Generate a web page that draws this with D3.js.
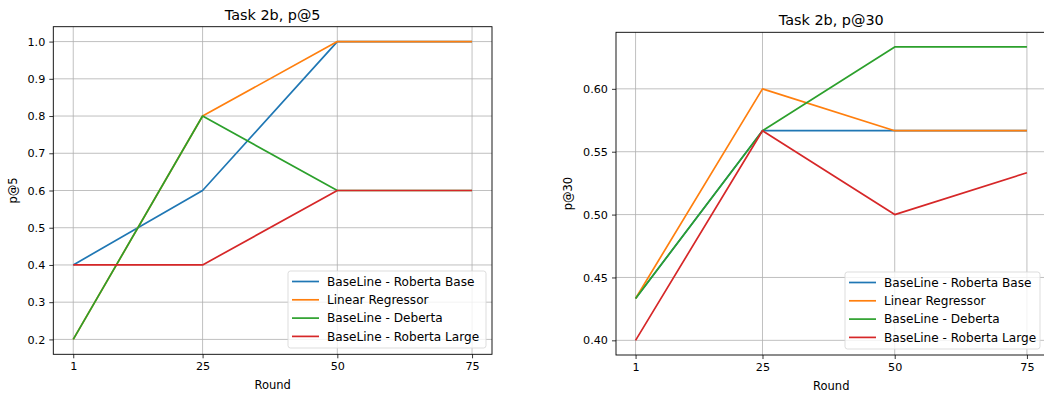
<!DOCTYPE html>
<html>
<head>
<meta charset="utf-8">
<script src="https://cdn.jsdelivr.net/npm/d3@7"></script>
<style>
  body { margin: 0; background: #fff; }
  svg { display: block; font-family: "DejaVu Sans", sans-serif; }
  .grid line { stroke: #b0b0b0; stroke-width: 0.8; }
  .axis path, .axis line { stroke: #000; stroke-width: 0.8; }
</style>
</head>
<body>
<div id="chart"></div>
<script>
(function () {

// values
var rounds = [1, 25, 50, 75];
var seriesNames = ['BaseLine - Roberta Base', 'Linear Regressor', 'BaseLine - Deberta', 'BaseLine - Roberta Large'];
var colors = ['#1f77b4', '#ff7f0e', '#2ca02c', '#d62728'];

var p5RobertaBase = [0.4, 0.6, 1.0, 1.0];
var p5Linear = [0.2, 0.8, 1.0, 1.0];
var p5Deberta = [0.2, 0.8, 0.6, 0.6];
var p5RobertaLarge = [0.4, 0.4, 0.6, 0.6];

var p30RobertaBase = [0.4333, 0.5667, 0.5667, 0.5667];
var p30Linear = [0.4333, 0.6, 0.5667, 0.5667];
var p30Deberta = [0.4333, 0.5667, 0.6333, 0.6333];
var p30RobertaLarge = [0.4, 0.5667, 0.5, 0.5333];

var p5Ticks = [0.2, 0.3, 0.4, 0.5, 0.6, 0.7, 0.8, 0.9, 1.0];
var p30Ticks = [0.40, 0.45, 0.50, 0.55, 0.60];

var width = 1044, height = 396;

var svg = d3.select('#chart')
            .append('svg')
            .attr('width', width)
            .attr('height', height);

function panel(opts) {
  var all = [].concat.apply([], opts.series);
  var lo = d3.min(all), hi = d3.max(all);
  var pad = (hi - lo) * 0.05;
  var xpad = (d3.max(rounds) - d3.min(rounds)) * 0.05;

  var x = d3.scaleLinear()
            .domain([d3.min(rounds) - xpad, d3.max(rounds) + xpad])
            .range([opts.left, opts.right]);
  var y = d3.scaleLinear()
            .domain([lo - pad, hi + pad])
            .range([opts.bottom, opts.top]);

  var g = svg.append('g');

  // grid
  var grid = g.append('g').attr('class', 'grid');
  grid.selectAll('.gx').data(rounds).enter().append('line')
      .attr('x1', function(d) { return x(d); })
      .attr('x2', function(d) { return x(d); })
      .attr('y1', opts.top).attr('y2', opts.bottom);
  grid.selectAll('.gy').data(opts.ticks).enter().append('line')
      .attr('y1', function(d) { return y(d); })
      .attr('y2', function(d) { return y(d); })
      .attr('x1', opts.left).attr('x2', opts.right);

  // lines
  var line = d3.line()
               .x(function(d, i) { return x(rounds[i]); })
               .y(function(d) { return y(d); });
  opts.series.forEach(function(s, i) {
    g.append('path')
     .datum(s)
     .attr('fill', 'none')
     .attr('stroke', colors[i])
     .attr('stroke-width', 1.7)
     .attr('stroke-linejoin', 'round')
     .attr('d', line);
  });

  // axes
  var xa = g.append('g')
   .attr('class', 'axis')
   .attr('transform', 'translate(0,' + opts.bottom + ')')
   .call(d3.axisBottom(x).tickValues(rounds).tickSize(4).tickPadding(4).tickSizeOuter(0));
  var ya = g.append('g')
   .attr('class', 'axis')
   .attr('transform', 'translate(' + opts.left + ',0)')
   .call(d3.axisLeft(y).tickValues(opts.ticks).tickFormat(d3.format(opts.fmt)).tickSize(4).tickPadding(4));
  [xa, ya].forEach(function(a) {
    a.attr('font-family', '"DejaVu Sans", sans-serif').attr('font-size', 11.2);
    a.select('.domain').remove();
    a.selectAll('text').attr('fill', '#000');
  });

  // frame
  g.append('rect')
   .attr('x', opts.left).attr('y', opts.top)
   .attr('width', opts.right - opts.left)
   .attr('height', opts.bottom - opts.top)
   .attr('fill', 'none')
   .attr('stroke', '#000')
   .attr('stroke-width', 0.9);

  // title and labels
  var cx = (opts.left + opts.right) / 2;
  g.append('text')
   .attr('x', cx).attr('y', opts.top - 7)
   .attr('text-anchor', 'middle')
   .attr('font-size', '14.4px')
   .text(opts.title);
  g.append('text')
   .attr('x', cx).attr('y', opts.bottom + 35)
   .attr('text-anchor', 'middle')
   .attr('font-size', '11.5px')
   .text('Round');
  g.append('text')
   .attr('transform', 'translate(' + opts.ylabelX + ',' + (opts.top + opts.bottom) / 2 + ') rotate(-90)')
   .attr('text-anchor', 'middle')
   .attr('font-size', '11.5px')
   .text(opts.ylabel);

  // legend
  var lg = g.append('g').attr('transform', 'translate(' + opts.legX + ',' + opts.legY + ')');
  lg.append('rect')
    .attr('width', opts.legW).attr('height', 77)
    .attr('rx', 2.5)
    .attr('fill', 'rgba(255,255,255,0.8)')
    .attr('stroke', '#d9d9d9')
    .attr('stroke-width', 0.9);
  seriesNames.forEach(function(name, i) {
    var ry = 10.5 + i * 18.3;
    lg.append('line')
      .attr('x1', 4).attr('x2', 31)
      .attr('y1', ry).attr('y2', ry)
      .attr('stroke', colors[i]).attr('stroke-width', 1.7);
    lg.append('text')
      .attr('x', 39).attr('y', ry)
      .attr('dy', '0.35em')
      .attr('font-size', '12.1px')
      .text(name);
  });
}

panel({
  left: 53.3, right: 492, top: 26.7, bottom: 354.3,
  series: [p5RobertaBase, p5Linear, p5Deberta, p5RobertaLarge],
  ticks: p5Ticks, fmt: '.1f',
  title: 'Task 2b, p@5', ylabel: 'p@5', ylabelX: 17,
  legX: 288, legY: 271, legW: 198
});

panel({
  left: 616, right: 1046.5, top: 32.3, bottom: 355,
  series: [p30RobertaBase, p30Linear, p30Deberta, p30RobertaLarge],
  ticks: p30Ticks, fmt: '.2f',
  title: 'Task 2b, p@30', ylabel: 'p@30', ylabelX: 572,
  legX: 845, legY: 272, legW: 195
});

})();
</script>
</body>
</html>
